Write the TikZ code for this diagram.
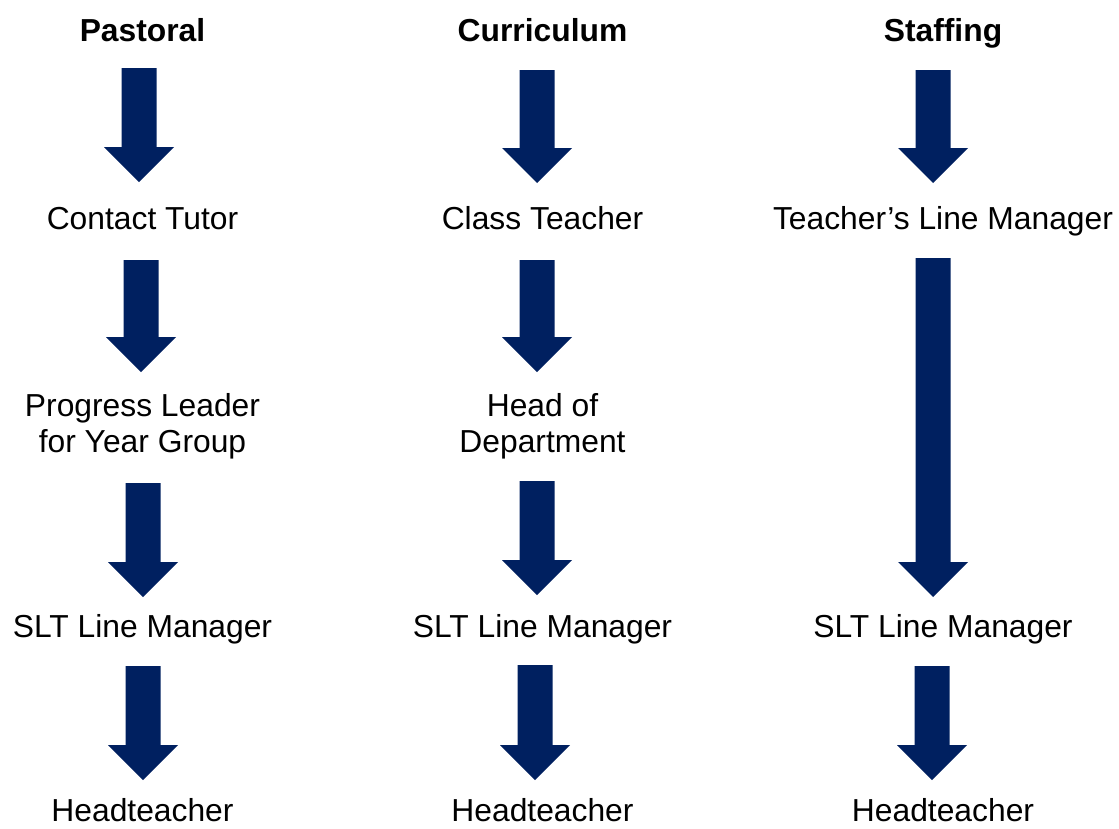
\documentclass[tikz,border=0pt]{standalone}
\usepackage{fontspec}
\setmainfont{Liberation Sans}
\definecolor{navy}{HTML}{002060}
\newcommand{\blockdown}[3]{%
  \fill[navy] (#1-17.5,#2) -- (#1+17.5,#2) -- (#1+17.5,#3-35) -- (#1+35,#3-35)
    -- (#1,#3) -- (#1-35,#3-35) -- (#1-17.5,#3-35) -- cycle;}
\begin{document}
\begin{tikzpicture}[x=1pt,y=-1pt,
  lbl/.style={anchor=base,inner sep=0pt,text depth=0pt,font=\fontsize{31.8}{36}\selectfont},
  ttl/.style={lbl,font=\fontsize{31.8}{36}\selectfont\bfseries}]
\useasboundingbox (0,0) rectangle (1119,828);
% titles
\node[ttl] (t1) at (142.5,41) {Pastoral};
\node[ttl] (t2) at (542.5,41) {Curriculum};
\node[ttl] (t3) at (943,41) {Staffing};
% column 1
\node[lbl] (a1) at (142.5,229.3) {Contact Tutor};
\node[lbl] (a2) at (142.5,416.7) {Progress Leader};
\node[lbl] (a2b) at (142.5,452.7) {for Year Group};
\node[lbl] (a3) at (142.5,637.7) {SLT Line Manager};
\node[lbl] (a4) at (142.5,821.5) {Headteacher};
% column 2
\node[lbl] (b1) at (542.5,229.3) {Class Teacher};
\node[lbl] (b2) at (542.5,416.7) {Head of};
\node[lbl] (b2b) at (542.5,452.7) {Department};
\node[lbl] (b3) at (542.5,637.7) {SLT Line Manager};
\node[lbl] (b4) at (542.5,821.5) {Headteacher};
% column 3
\node[lbl] (c1) at (943,229.3) {Teacher’s Line Manager};
\node[lbl] (c3) at (943,637.7) {SLT Line Manager};
\node[lbl] (c4) at (943,821.5) {Headteacher};
% arrows
\blockdown{139}{68}{182}
\blockdown{141}{260}{372}
\blockdown{143}{483}{597}
\blockdown{143}{666}{780}
\blockdown{537}{70}{183}
\blockdown{537}{260}{372}
\blockdown{537}{481}{595}
\blockdown{535}{665}{780}
\blockdown{933}{70}{183}
\blockdown{933}{258}{597}
\blockdown{932}{666}{780}
\end{tikzpicture}
\end{document}
